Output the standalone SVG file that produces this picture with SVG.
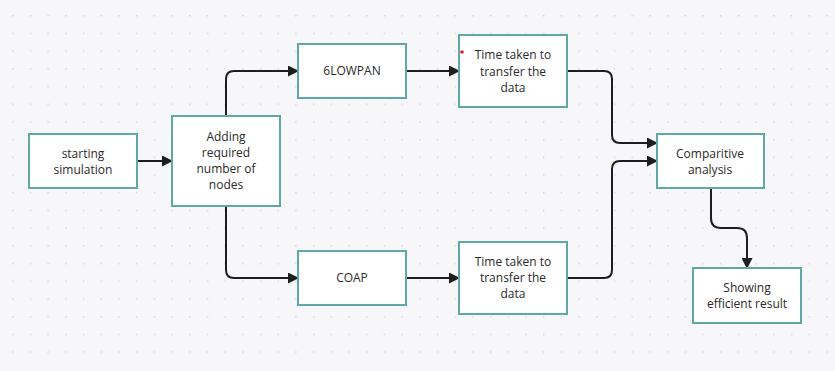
<svg xmlns="http://www.w3.org/2000/svg" width="835" height="371" viewBox="0 0 835 371">
<defs>
<pattern id="dots" x="12" y="15" width="17.7" height="17.7" patternUnits="userSpaceOnUse">
<circle cx="0.8" cy="0.8" r="0.8" fill="#d2d2da"/>
</pattern>
<marker id="arr" markerWidth="11" markerHeight="11" refX="10" refY="5.5" orient="auto" markerUnits="userSpaceOnUse">
<path d="M0,0 L11,5.5 L0,11 Z" fill="#1e1e1e"/>
</marker>
</defs>
<style>
.box{fill:#ffffff;stroke:#5fa8a6;stroke-width:2}
.t{font-family:"Open Sans","Noto Sans",sans-serif;font-size:12px;fill:#2a2a2a;text-anchor:middle}
.c{fill:none;stroke:#1e1e1e;stroke-width:2;marker-end:url(#arr)}
</style>
<rect width="835" height="371" fill="#f7f7fa"/>
<rect x="4" y="6" width="831" height="360" fill="url(#dots)"/>
<g id="connectors">
<path class="c" d="M137,161 H172"/>
<path class="c" d="M226,116 V79 Q226,71 234,71 H298"/>
<path class="c" d="M226,206 V270 Q226,278 234,278 H298"/>
<path class="c" d="M406,71 H459"/>
<path class="c" d="M406,278 H459"/>
<path class="c" d="M567,71 H604 Q612,71 612,79 V135 Q612,143 620,143 H657"/>
<path class="c" d="M567,278 H604 Q612,278 612,270 V169 Q612,161 620,161 H657"/>
<path class="c" d="M711,188 V218 Q711,228 721,228 H737 Q747,228 747,238 V268"/>
</g>
<g id="start">
<rect class="box" x="29" y="134" width="108" height="54"/>
<text class="t" x="83" y="158">starting</text>
<text class="t" x="83" y="174">simulation</text>
</g>
<g id="adding">
<rect class="box" x="172" y="116" width="108" height="90"/>
<text class="t" x="226" y="141">Adding</text>
<text class="t" x="226" y="157">required</text>
<text class="t" x="226" y="173">number of</text>
<text class="t" x="226" y="189">nodes</text>
</g>
<g id="lowpan">
<rect class="box" x="298" y="44" width="108" height="54"/>
<text class="t" x="352" y="75">6LOWPAN</text>
</g>
<g id="coap">
<rect class="box" x="298" y="251" width="108" height="54"/>
<text class="t" x="352" y="282">COAP</text>
</g>
<g id="time1">
<rect class="box" x="459" y="35" width="108" height="72"/>
<circle cx="462" cy="52" r="1.8" fill="#e02020"/>
<text class="t" x="513" y="59">Time taken to</text>
<text class="t" x="513" y="76">transfer the</text>
<text class="t" x="513" y="92">data</text>
</g>
<g id="time2">
<rect class="box" x="459" y="242" width="108" height="72"/>
<text class="t" x="513" y="266">Time taken to</text>
<text class="t" x="513" y="282">transfer the</text>
<text class="t" x="513" y="298">data</text>
</g>
<g id="compare">
<rect class="box" x="657" y="134" width="107" height="54"/>
<text class="t" x="710" y="158">Comparitive</text>
<text class="t" x="710" y="174">analysis</text>
</g>
<g id="result">
<rect class="box" x="693" y="268" width="108" height="55"/>
<text class="t" x="747" y="292">Showing</text>
<text class="t" x="747" y="308">efficient result</text>
</g>
</svg>
